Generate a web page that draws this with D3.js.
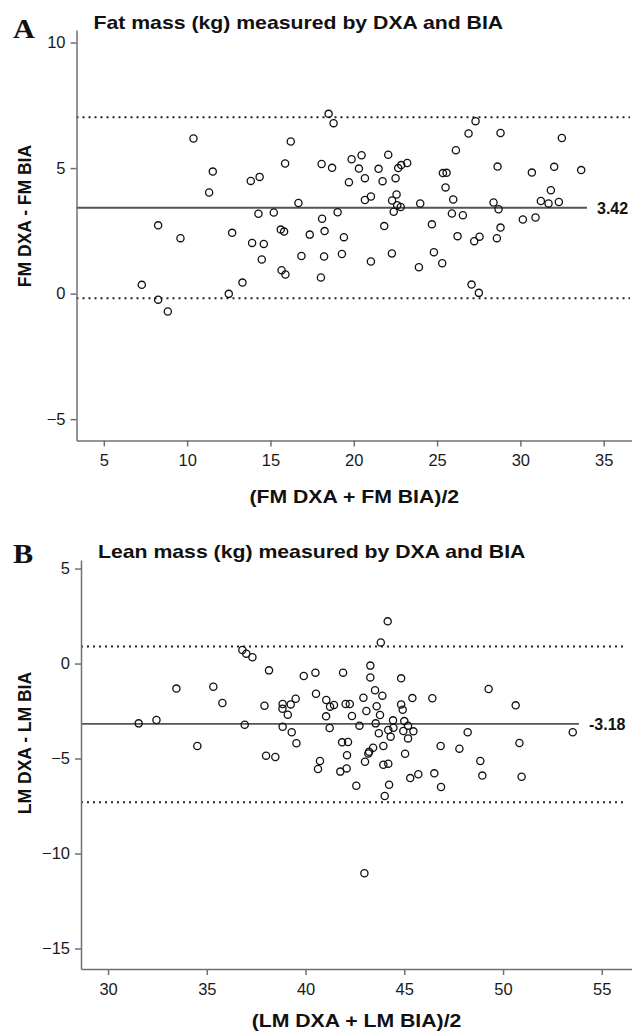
<!DOCTYPE html>
<html>
<head>
<meta charset="utf-8">
<script src="https://cdn.jsdelivr.net/npm/d3@7"></script>
<style>
  body { margin: 0; background: #fff; }
  svg { display: block; }
  .tick text { font-family: "Liberation Sans", Arial, sans-serif; font-size: 16.5px; fill: #1a1a1a; }
  .tick line, .domain { stroke: #707070; stroke-width: 1.5px; }
  .bold { font-family: "Liberation Sans", Arial, sans-serif; font-weight: bold; fill: #111; }
  .panel { font-family: "Liberation Serif", "Times New Roman", serif; font-weight: bold; font-size: 27px; fill: #111; }
</style>
</head>
<body>
<div id="chart"></div>
<script>
const svgWidth = 632;
const svgHeight = 1034;

// Panel A: fat mass, mean of the two methods vs difference (DXA - BIA)
const fmMean = [10.38, 11.54, 11.32, 8.26, 9.6, 7.28, 8.26, 8.84, 12.5, 13.32, 12.7, 13.82, 14.35, 14.28,
  15.2, 13.9, 14.6, 14.48, 15.62, 15.82, 15.67, 15.9, 15.88, 16.22, 16.68, 16.86, 17.36, 18.1, 18.25,
  18.22, 18.03, 18.07, 18.7, 18.49, 18.79, 19.03, 19.41, 19.29, 19.71, 19.87, 20.47, 20.31, 20.67,
  20.67, 21.03, 21.03, 21.49, 21.73, 21.83, 22.07, 22.51, 22.57, 22.3, 22.67, 22.85, 23.21, 22.61,
  22.82, 22.4, 22.29, 23.99, 23.91, 24.69, 24.81, 25.31, 25.35, 25.57, 25.51, 25.97, 25.89, 26.55,
  26.23, 26.13, 26.89, 27.31, 27.55, 27.23, 27.07, 27.51, 28.81, 28.63, 28.39, 28.69, 28.81, 28.59,
  30.15, 30.91, 30.69, 31.83, 31.23, 31.69, 32.31, 32.03, 32.49, 33.65];
const fmDiff = [6.18, 4.86, 4.03, 2.72, 2.21, 0.35, -0.24, -0.71, -0.01, 0.44, 2.42, 4.49, 4.65, 3.18,
  3.23, 2.02, 1.98, 1.36, 2.55, 2.47, 0.93, 0.76, 5.18, 6.06, 3.61, 1.5, 2.35, 2.98, 2.49,
  1.48, 0.64, 5.16, 5.01, 7.16, 6.79, 3.24, 2.25, 1.58, 4.44, 5.35, 5.51, 4.98, 4.6,
  3.73, 3.87, 1.28, 4.97, 4.48, 2.69, 5.53, 4.6, 3.95, 3.71, 5.0, 5.12, 5.2, 3.52,
  3.45, 3.26, 1.6, 3.59, 1.05, 2.76, 1.65, 1.21, 4.8, 4.81, 4.23, 3.75, 3.19, 3.12,
  2.29, 5.71, 6.38, 6.87, 2.27, 2.09, 0.36, 0.03, 6.4, 5.06, 3.63, 3.36, 2.63, 2.21,
  2.95, 3.03, 4.82, 4.12, 3.69, 3.59, 3.65, 5.05, 6.2, 4.92];
const fmBias = 3.42;
const fmLimits = [7.02, -0.18];
const fmXTicks = [5, 10, 15, 20, 25, 30, 35];
const fmYTicks = [-5, 0, 5, 10];

// Panel B: lean mass
const lmMean = [31.55, 32.45, 33.46, 34.52, 35.33, 35.79, 36.8, 37.0, 37.31, 36.92, 38.15, 37.92, 38.0,
  38.47, 38.84, 38.83, 39.1, 39.25, 39.5, 38.84, 39.3, 39.54, 39.91, 40.5, 40.53, 41.05, 41.04, 41.24,
  41.44, 41.22, 40.73, 40.63, 41.9, 42.03, 42.24, 42.35, 41.85, 42.15, 42.1, 42.08, 41.76, 42.57,
  44.16, 43.81, 43.28, 43.28, 44.84, 43.52, 43.89, 42.93, 45.41, 46.42, 49.27, 50.64, 43.08, 43.6,
  43.77, 44.84, 44.92, 42.73, 43.55, 44.43, 45.0, 44.19, 44.45, 43.71, 44.31, 44.95, 45.19, 45.19,
  45.46, 48.21, 53.53, 50.83, 46.84, 47.79, 43.94, 43.42, 43.22, 43.18, 45.04, 43.01, 43.94, 44.19,
  48.85, 48.95, 50.94, 46.52, 45.71, 45.3, 46.86, 44.23, 44.01, 42.98];
const lmDiff = [-3.15, -2.97, -1.32, -4.34, -1.22, -2.08, 0.71, 0.52, 0.33, -3.22, -0.36, -2.22, -4.85,
  -4.92, -2.13, -2.38, -2.69, -2.15, -1.85, -3.33, -3.62, -4.2, -0.66, -0.48, -1.59, -1.92, -2.78, -2.27,
  -2.18, -3.39, -5.13, -5.55, -0.48, -2.13, -2.13, -2.76, -4.15, -4.13, -4.83, -5.52, -5.69, -6.43,
  2.22, 1.11, -0.11, -0.73, -0.78, -1.41, -1.69, -1.8, -1.82, -1.83, -1.34, -2.2, -2.5, -2.25,
  -2.71, -2.15, -2.43, -3.27, -3.15, -2.99, -3.03, -3.5, -3.38, -3.67, -3.85, -3.55, -3.27, -3.94,
  -3.57, -3.62, -3.62, -4.18, -4.34, -4.48, -4.34, -4.43, -4.64, -4.73, -4.75, -5.17, -5.33, -5.27,
  -5.13, -5.9, -5.96, -5.78, -5.83, -6.03, -6.5, -6.38, -6.97, -11.04];
const lmBias = -3.18;
const lmLimits = [0.9, -7.3];
const lmXTicks = [30, 35, 40, 45, 50, 55];
const lmYTicks = [-15, -10, -5, 0, 5];

const svg = d3.select("#chart")
  .append("svg")
  .attr("width", svgWidth)
  .attr("height", svgHeight);

// the original figure is stretched sideways, so horizontal titles get a scaleX
const stretch = 1.18;

function stretchedText(x, y, str, size, anchor) {
  return svg.append("text")
    .attr("class", "bold")
    .attr("transform", `translate(${x}, ${y}) scale(${stretch}, 1)`)
    .attr("text-anchor", anchor || "start")
    .style("font-size", size + "px")
    .text(str);
}

function drawPanel(p) {
  const x = d3.scaleLinear().domain(p.xDomain).range([p.left, p.right]);
  const y = d3.scaleLinear().domain(p.yDomain).range([p.bottom, p.top]);

  const g = svg.append("g");

  // limits of agreement (dotted) and mean difference (solid)
  g.selectAll(".limit")
    .data(p.limits)
    .enter()
    .append("line")
    .attr("x1", p.left)
    .attr("x2", p.dotEnd)
    .attr("y1", d => y(d))
    .attr("y2", d => y(d))
    .attr("stroke", "#222")
    .attr("stroke-width", 2)
    .attr("stroke-dasharray", "2,4");

  g.append("line")
    .attr("x1", p.left)
    .attr("x2", p.biasEnd)
    .attr("y1", y(p.bias))
    .attr("y2", y(p.bias))
    .attr("stroke", "#555")
    .attr("stroke-width", 1.8);

  svg.append("text")
    .attr("class", "bold")
    .attr("x", p.biasEnd + 10)
    .attr("y", y(p.bias) + 6)
    .style("font-size", "16px")
    .text(p.bias.toFixed(2));

  // points
  g.selectAll("circle")
    .data(p.xs.map((v, i) => [v, p.ys[i]]))
    .enter()
    .append("circle")
    .attr("cx", d => x(d[0]))
    .attr("cy", d => y(d[1]))
    .attr("r", 3.6)
    .attr("fill", "none")
    .attr("stroke", "#111")
    .attr("stroke-width", 1.3);

  // axes
  svg.append("g")
    .attr("transform", `translate(0, ${p.bottom})`)
    .call(d3.axisBottom(x).tickValues(p.xTicks).tickSize(6).tickSizeOuter(0).tickPadding(8));

  svg.append("g")
    .attr("transform", `translate(${p.left}, 0)`)
    .call(d3.axisLeft(y).tickValues(p.yTicks).tickSize(6).tickSizeOuter(0).tickPadding(5));

  // labels
  svg.append("text")
    .attr("class", "panel")
    .attr("transform", `translate(13, ${p.letterY}) scale(1.12, 1)`)
    .text(p.letter);

  stretchedText(p.left + 17, p.titleY, p.title, 18);
  stretchedText((p.left + p.right) / 2, p.xTitleY, p.xTitle, 18, "middle");

  svg.append("text")
    .attr("class", "bold")
    .attr("transform", `translate(31, ${p.yTitleY}) rotate(-90)`)
    .attr("text-anchor", "middle")
    .style("font-size", "17.5px")
    .text(p.yTitle);
}

drawPanel({
  letter: "A",
  letterY: 38,
  title: "Fat mass (kg) measured by DXA and BIA",
  titleY: 28.5,
  xTitle: "(FM DXA + FM BIA)/2",
  xTitleY: 503,
  yTitle: "FM DXA - FM BIA",
  yTitleY: 216,
  xs: fmMean,
  ys: fmDiff,
  bias: fmBias,
  limits: fmLimits,
  xTicks: fmXTicks,
  yTicks: fmYTicks,
  xDomain: [3.36, 36.7],
  yDomain: [-5.85, 10.5],
  left: 76.5, right: 632, top: 30, bottom: 440.5,
  biasEnd: 587, dotEnd: 630
});

drawPanel({
  letter: "B",
  letterY: 563,
  title: "Lean mass (kg) measured by DXA and BIA",
  titleY: 558,
  xTitle: "(LM DXA + LM BIA)/2",
  xTitleY: 1027,
  yTitle: "LM DXA - LM BIA",
  yTitleY: 743,
  xs: lmMean,
  ys: lmDiff,
  bias: lmBias,
  limits: lmLimits,
  xTicks: lmXTicks,
  yTicks: lmYTicks,
  xDomain: [28.63, 56.53],
  yDomain: [-16.08, 5.45],
  left: 81, right: 632, top: 560, bottom: 969,
  biasEnd: 579, dotEnd: 627
});
</script>
</body>
</html>
